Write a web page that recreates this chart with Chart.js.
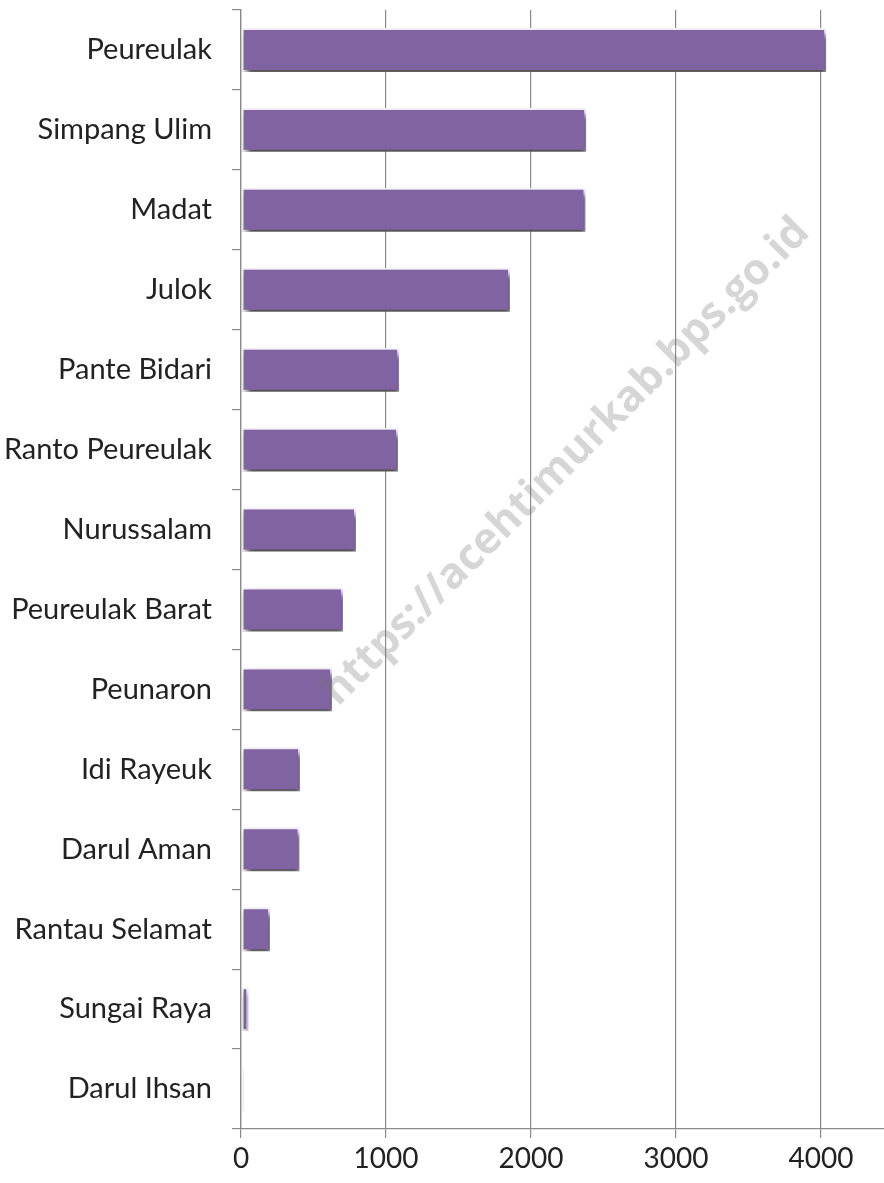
<!DOCTYPE html>
<html>
<head>
<meta charset="utf-8">
<script src="https://cdn.jsdelivr.net/npm/chart.js@4/dist/chart.umd.min.js"></script>
<style>
  html, body { margin: 0; padding: 0; background: #fff; }
  #wrap { width: 884px; height: 1183px; position: relative; }
</style>
</head>
<body>
<div id="wrap"><canvas id="chart"></canvas></div>
<script>
// Kecamatan names and values
const kecamatan = [
    'Peureulak', 'Simpang Ulim', 'Madat', 'Julok', 'Pante Bidari',
    'Ranto Peureulak', 'Nurussalam', 'Peureulak Barat', 'Peunaron',
    'Idi Rayeuk', 'Darul Aman', 'Rantau Selamat', 'Sungai Raya', 'Darul Ihsan'
];
const nilai = [4035, 2380, 2375, 1855, 1090, 1083, 793, 703, 628, 407, 403, 200, 50, 18];
const xTicks = [0, 1000, 2000, 3000, 4000];

// soft drop shadow under the bars, like the office chart
const barShadow = {
    id: 'barShadow',
    beforeDatasetsDraw(chart) {
        const ctx = chart.ctx;
        ctx.save();
        ctx.shadowColor = 'rgba(0,0,0,0.7)';
        ctx.shadowBlur = 6;
        ctx.shadowOffsetX = 3;
        ctx.shadowOffsetY = 5;
    },
    afterDatasetsDraw(chart) {
        chart.ctx.restore();
    }
};

// watermark text across the plot
const watermark = {
    id: 'watermark',
    afterDatasetsDraw(chart) {
        const ctx = chart.ctx;
        ctx.save();
        ctx.translate(566, 462);
        ctx.rotate(-Math.PI / 4);
        ctx.font = 'bold 43px "Open Sans", sans-serif';
        ctx.fillStyle = 'rgba(120,120,120,0.3)';
        ctx.textAlign = 'center';
        ctx.textBaseline = 'middle';
        ctx.fillText('https://acehtimurkab.bps.go.id', 0, 0);
        ctx.restore();
    }
};

const ctx = document.getElementById('chart').getContext('2d');
window.kecChart = new Chart(ctx, {
    type: 'bar',
    data: {
        labels: kecamatan,
        datasets: [{
            data: nilai,
            backgroundColor: '#8064a2',
            borderColor: '#f6f1fa',
            borderWidth: 2,
            borderSkipped: false,
            barPercentage: 0.55,
            categoryPercentage: 1
        }]
    },
    options: {
        indexAxis: 'y',
        responsive: true,
        maintainAspectRatio: false,
        animation: false,
        layout: { padding: { top: 10, right: 0, left: 0, bottom: 0 } },
        scales: {
            x: {
                min: 0,
                max: 4434,
                afterBuildTicks: function(scale) {
                    scale.ticks = xTicks.map(v => ({ value: v }));
                },
                afterFit: function(scale) {
                    scale.height = 54;
                    scale.paddingLeft = 0;
                    scale.paddingRight = 0;
                },
                border: { color: '#8a8a8a', width: 1.3 },
                grid: {
                    color: '#8a8a8a',
                    lineWidth: 1.2,
                    tickLength: 9
                },
                ticks: {
                    padding: 4,
                    color: '#222',
                    font: { family: 'Lato, "Open Sans", sans-serif', size: 28 },
                    callback: function(value) {
                        return String(value);
                    }
                }
            },
            y: {
                afterFit: function(scale) {
                    scale.width = 241;
                    scale.paddingTop = 0;
                    scale.paddingBottom = 0;
                },
                border: { color: '#8a8a8a', width: 1.3 },
                grid: {
                    offset: true,
                    drawOnChartArea: false,
                    color: '#8a8a8a',
                    lineWidth: 1.2,
                    tickLength: 9
                },
                ticks: {
                    padding: 20,
                    color: '#222',
                    font: { family: 'Lato, "Open Sans", sans-serif', size: 29 }
                }
            }
        },
        plugins: {
            legend: { display: false },
            tooltip: { enabled: false }
        }
    },
    plugins: [barShadow, watermark]
});
</script>
</body>
</html>
